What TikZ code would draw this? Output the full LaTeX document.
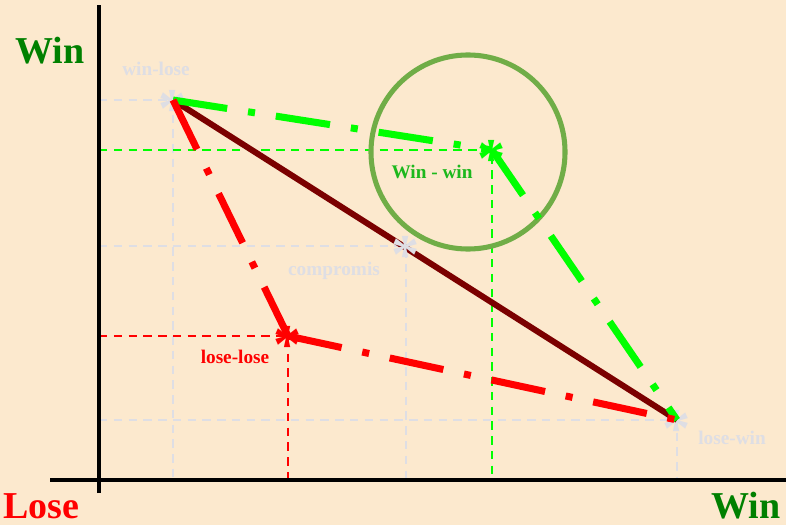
\documentclass[tikz,border=0pt]{standalone}
\usepackage{fontspec}
\setmainfont{Liberation Serif}

\definecolor{paper}{HTML}{FCE9CE}
\definecolor{guidegrey}{HTML}{DEDEE4}
\definecolor{wingreen}{HTML}{008000}
\definecolor{lightgreen}{HTML}{00FF00}
\definecolor{labelgreen}{HTML}{1DB81D}
\definecolor{ringgreen}{HTML}{70AD47}
\definecolor{darkred}{HTML}{7B0000}

\tikzset{
  guide/.style={line width=1.6pt, dash pattern=on 6pt off 4.5pt},
  dashdot/.style={line width=5pt, dash pattern=on 39pt off 15pt on 5pt off 15pt},
  lbl/.style={font=\fontsize{13.7}{16}\selectfont\bfseries, anchor=base, inner sep=0pt},
  bigword/.style={font=\fontsize{27}{30}\selectfont\bfseries, anchor=base, inner sep=0pt},
  starmark/.style={font=\fontsize{40}{40}\selectfont\bfseries, inner sep=0pt, anchor=base, yshift=-19.5pt}
}

\begin{document}
\begin{tikzpicture}[x=0.025cm,y=-0.025cm]
\fill[paper] (0,0) rectangle (786,525);
\useasboundingbox (0,0) rectangle (786,525);

% outcome points
\coordinate (o) at (99,480);
\coordinate (wl) at (173,100);
\coordinate (ww) at (492,150);
\coordinate (ll) at (288,336);
\coordinate (cp) at (406,246);
\coordinate (lw) at (677,420);

% projections onto the axes
\draw[guide, guidegrey] (wl -| o) -- (wl) -- (wl |- o);
\draw[guide, guidegrey] (cp -| o) -- (cp) -- (cp |- o);
\draw[guide, guidegrey] (lw -| o) -- (lw) -- (lw |- o);
\draw[guide, lightgreen] (ww -| o) -- (ww) -- (ww |- o);
\draw[guide, red] (ll -| o) -- (ll) -- (ll |- o);

\node[draw=ringgreen, line width=3.6pt, circle, minimum size=4.85cm] (ring) at (468,152) {};

\node[starmark, guidegrey] (swl) at (wl) {*};
\node[starmark, guidegrey] (slw) at (lw) {*};

% the three ways between win-lose and lose-win
\draw[darkred, line width=4.3pt] (wl) -- (lw);
\draw[dashdot, lightgreen] (wl) -- (ww);
\draw[dashdot, lightgreen] (ww) -- (lw);
\draw[dashdot, red] (wl) -- (ll);
\draw[dashdot, red] (ll) -- (lw);

\node[starmark, guidegrey] (scp) at (cp) {*};
\node[starmark, lightgreen] (sww) at (ww) {*};
\node[starmark, red] (sll) at (ll) {*};

% axes
\coordinate (ytop) at (99,5);
\coordinate (ybot) at (99,493);
\coordinate (xl) at (50,480);
\coordinate (xr) at (786,480);
\draw[line width=2.8pt] (ybot) -- (ytop);
\draw[line width=2.8pt] (xl) -- (xr);

\node[lbl, guidegrey] (twl) at (156,76) {win-lose};
\node[lbl, guidegrey] (tcp) at (334,275) {compromis};
\node[lbl, guidegrey] (tlw) at (732,444) {lose-win};
\node[lbl, labelgreen] (tww) at (432,178) {Win - win};
\node[lbl, red] (tll) at (235,363) {lose-lose};

\node[bigword, wingreen] (winy) at (50,64) {Win};
\node[bigword, red] (lose) at (41,518) {Lose};
\node[bigword, wingreen] (winx) at (746,518) {Win};
\end{tikzpicture}
\end{document}
